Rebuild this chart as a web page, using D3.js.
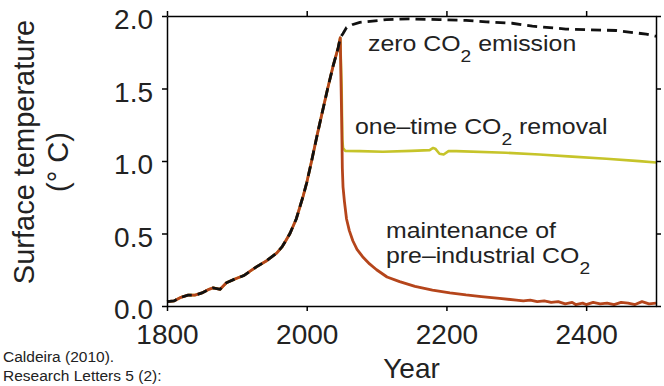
<!DOCTYPE html>
<html>
<head>
<meta charset="utf-8">
<script src="https://cdn.jsdelivr.net/npm/d3@7"></script>
<style>
  html, body { margin: 0; padding: 0; background: #fff; }
  svg { display: block; font-family: "Liberation Sans", Arial, Helvetica, sans-serif; }
</style>
</head>
<body>
<svg id="chart" width="664" height="386"></svg>
<script>
// Historical warming shared by all scenarios (year, °C)
const histYears = [1800, 1810, 1820, 1830, 1840, 1850, 1860, 1866, 1876, 1885, 1899, 1910, 1919, 1928, 1942, 1957, 1965, 1970, 1976, 1985, 1995, 2000, 2007, 2015, 2022, 2030, 2038, 2045, 2048];
const histTemp  = [0.03, 0.035, 0.06, 0.075, 0.075, 0.09, 0.115, 0.125, 0.115, 0.16, 0.19, 0.21, 0.24, 0.27, 0.31, 0.365, 0.41, 0.45, 0.50, 0.60, 0.76, 0.85, 1.0, 1.18, 1.33, 1.50, 1.66, 1.78, 1.85];

// Zero CO2 emission after 2050
const zeroYears = [2052, 2057, 2065, 2076, 2114, 2147, 2190, 2228, 2257, 2294, 2323, 2371, 2404, 2443, 2486, 2500];
const zeroTemp  = [1.88, 1.92, 1.94, 1.956, 1.975, 1.98, 1.975, 1.97, 1.96, 1.95, 1.93, 1.91, 1.905, 1.90, 1.875, 1.86];

// One-time CO2 removal
const removalYears = [2050, 2051, 2052, 2055, 2076, 2109, 2150, 2176, 2181, 2184, 2190, 2196, 2203, 2214, 2285, 2333, 2380, 2429, 2476, 2500];
const removalTemp  = [1.5, 1.15, 1.09, 1.07, 1.068, 1.064, 1.07, 1.075, 1.09, 1.085, 1.05, 1.045, 1.068, 1.068, 1.057, 1.045, 1.03, 1.015, 0.999, 0.99];

// Maintenance of pre-industrial CO2
const preindYears = [2050, 2051, 2052, 2054, 2057, 2061, 2066, 2072, 2080, 2090, 2100, 2115, 2133, 2155, 2180, 2205, 2228, 2250, 2276, 2300, 2310, 2320, 2330, 2340, 2350, 2360, 2370, 2380, 2385, 2395, 2400, 2410, 2420, 2430, 2440, 2450, 2460, 2470, 2480, 2490, 2500];
const preindTemp  = [1.3, 0.95, 0.82, 0.72, 0.6, 0.52, 0.45, 0.39, 0.34, 0.29, 0.25, 0.2, 0.168, 0.135, 0.11, 0.09, 0.076, 0.065, 0.053, 0.04, 0.035, 0.04, 0.03, 0.035, 0.025, 0.03, 0.015, 0.025, 0.01, 0.02, 0.01, 0.025, 0.015, 0.02, 0.01, 0.025, 0.02, 0.01, 0.03, 0.015, 0.02];

const xTicks = [1800, 2000, 2200, 2400];
const yTicks = [0, 0.5, 1.0, 1.5, 2.0];

(function draw() {
  const svg = d3.select("#chart");
  const plotLeft = 167, plotRight = 656, plotTop = 16, plotBottom = 306;

  const x = d3.scaleLinear().domain([1800, 2500]).range([plotLeft, plotRight]);
  const y = d3.scaleLinear().domain([0, 2]).range([plotBottom, plotTop]);

  const zip = (a, b) => a.map((v, i) => [v, b[i]]);
  const hist = zip(histYears, histTemp);
  const zero = hist.concat(zip(zeroYears, zeroTemp));
  const removal = hist.concat(zip(removalYears, removalTemp));
  const preind = hist.concat(zip(preindYears, preindTemp));

  const line = d3.line().x(d => x(d[0])).y(d => y(d[1]));

  // Curves
  svg.append("path").datum(removal).attr("d", line)
    .attr("fill", "none").attr("stroke", "#c6c42a").attr("stroke-width", 2.6).attr("stroke-linejoin", "round");
  svg.append("path").datum(preind).attr("d", line)
    .attr("fill", "none").attr("stroke", "#b5451b").attr("stroke-width", 2.8).attr("stroke-linejoin", "round");
  svg.append("path").datum(zero).attr("d", line)
    .attr("fill", "none").attr("stroke", "#111").attr("stroke-width", 2.8)
    .attr("stroke-dasharray", "10,6");

  const font = '"Liberation Sans", Arial, Helvetica, sans-serif';

  // Axes (frame with outward ticks)
  const styleAxis = g => {
    g.selectAll("path.domain").attr("stroke", "#000").attr("stroke-width", 1.5);
    g.selectAll(".tick line").attr("stroke", "#000").attr("stroke-width", 1.5);
    g.selectAll("text").attr("fill", "#222").attr("font-size", 28).attr("font-family", font);
  };

  svg.append("g").attr("transform", `translate(0,${plotBottom})`)
    .call(d3.axisBottom(x).tickValues(xTicks).tickSize(5).tickSizeOuter(0).tickPadding(13).tickFormat(d3.format("d")))
    .call(styleAxis);
  svg.append("g").attr("transform", `translate(0,${plotTop})`)
    .call(d3.axisTop(x).tickValues(xTicks).tickSize(5).tickSizeOuter(0).tickFormat(""))
    .call(styleAxis);
  svg.append("g").attr("transform", `translate(${plotLeft},0)`)
    .call(d3.axisLeft(y).tickValues(yTicks).tickSize(5).tickSizeOuter(0).tickPadding(9).tickFormat(d3.format(".1f")))
    .call(styleAxis)
    .call(g => g.selectAll("text").attr("dy", "0.46em"));
  svg.append("g").attr("transform", `translate(${plotRight},0)`)
    .call(d3.axisRight(y).tickValues(yTicks).tickSize(5).tickSizeOuter(0).tickFormat(""))
    .call(styleAxis);

  // Axis titles
  svg.append("text").attr("transform", "translate(34,152) rotate(-90)")
    .attr("text-anchor", "middle").attr("font-size", 29).attr("fill", "#222").attr("font-family", font)
    .text("Surface temperature");
  svg.append("text").attr("transform", "translate(68,162) rotate(-90)")
    .attr("text-anchor", "middle").attr("font-size", 29).attr("fill", "#222").attr("font-family", font)
    .text("(° C)");
  svg.append("text").attr("x", (plotLeft + plotRight) / 2).attr("y", 378)
    .attr("text-anchor", "middle").attr("font-size", 28).attr("fill", "#222").attr("font-family", font)
    .text("Year");

  // Scenario labels (slightly wide lettering), CO2 with subscript
  function label(xPos, yPos, before, withCO2, after) {
    const g = svg.append("g").attr("transform", `translate(${xPos},${yPos}) scale(1.13,1)`);
    const t = g.append("text").attr("x", 0).attr("y", 0)
      .attr("font-size", 22).attr("fill", "#222").attr("font-family", font);
    t.append("tspan").text(before + (withCO2 ? "CO" : ""));
    if (withCO2) {
      t.append("tspan").attr("font-size", 17).attr("dy", 11).text("2");
      if (after) t.append("tspan").attr("dy", -11).text(after);
    }
    return t;
  }
  label(368, 51, "zero ", true, " emission");
  label(355, 134, "one–time ", true, " removal");
  label(386, 237.5, "maintenance of", false);
  label(386, 263, "pre–industrial ", true, null);

  // Source note
  svg.append("text").attr("x", 3).attr("y", 362)
    .attr("font-size", 15.5).attr("fill", "#222").attr("font-family", font)
    .text("Caldeira (2010).");
  svg.append("text").attr("x", 3).attr("y", 381)
    .attr("font-size", 15.5).attr("fill", "#222").attr("font-family", font)
    .text("Research Letters 5 (2):");
})();
</script>
</body>
</html>
